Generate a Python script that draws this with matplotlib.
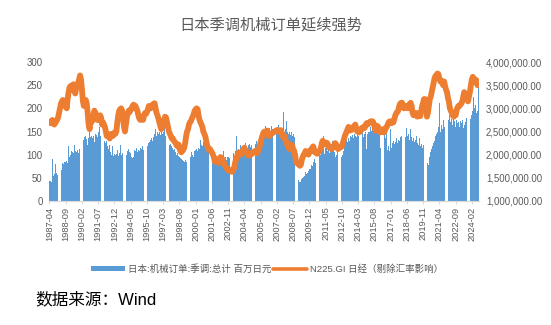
import matplotlib
matplotlib.use('Agg')
import matplotlib.pyplot as plt
import numpy as np
import pandas as pd
from matplotlib.ticker import FuncFormatter, MultipleLocator
from matplotlib.patches import Patch
from matplotlib.lines import Line2D

plt.rcParams['font.family'] = ['Liberation Sans', 'Noto Sans CJK SC', 'DejaVu Sans']

months = pd.period_range('1987-04', '2024-09', freq='M').strftime('%Y-%m').tolist()

# 日本:机械订单:季调:总计 (left axis units as shown)
orders = [
    43, 44, 42, 90, 55, 58, 80, 60, 57,
    62, 58, 65, 64, 66, 82, 80, 85, 84, 86, 82, 118,
    95, 100, 108, 105, 104, 120, 108, 106, 110, 104, 112, 115,
    130, 135, 140, 132, 138, 140, 133, 120, 135, 150, 138, 140,
    135, 140, 128, 145, 142, 138, 148, 160, 140, 130, 150, 138,
    135, 130, 125, 130, 118, 112, 120, 105, 100, 118, 98, 102,
    100, 102, 110, 98, 104, 120, 100, 103, 125, 98, 105, 102,
    100, 108, 112, 106, 104, 96, 92, 95, 110, 108, 114, 106,
    110, 108, 115, 112, 118, 110, 114, 122, 116, 120, 118, 125,
    128, 132, 135, 130, 138, 145, 155, 140, 148, 145, 150, 142,
    148, 145, 150, 158, 140, 138, 132, 135, 125, 120, 122, 118,
    115, 110, 112, 105, 100, 103, 98, 95, 92, 90, 88, 86,
    85, 88, 84, 90, 92, 87, 98, 95, 105, 100, 96, 108,
    110, 112, 108, 115, 112, 131, 120, 118, 128, 125, 115, 122,
    115, 118, 110, 108, 104, 100, 96, 95, 90, 92, 88, 86,
    84, 88, 80, 85, 90, 107, 92, 95, 88, 96, 94, 92,
    95, 94, 128, 100, 104, 96, 108, 140, 104, 112, 110, 120,
    112, 115, 118, 110, 125, 118, 114, 120, 122, 116, 120, 141,
    120, 125, 118, 122, 130, 115, 128, 124, 126, 135, 145, 150,
    150, 161, 148, 152, 155, 158, 150, 162, 155, 152, 160, 156,
    158, 152, 160, 163, 155, 158, 150, 155, 192, 150, 155, 173,
    148, 145, 150, 142, 148, 140, 145, 138, 130, 115, 100, 85,
    45, 41, 42, 48, 50, 52, 55, 62, 58, 60, 65, 68,
    70, 78, 75, 85, 90, 82, 95, 92, 100, 98, 105, 100,
    105, 110, 140, 102, 115, 120, 108, 112, 104, 118, 110, 130,
    115, 105, 95, 100, 110, 88, 98, 82, 104, 95, 100, 108,
    120, 125, 132, 128, 135, 130, 140, 138, 142, 135, 145, 140,
    138, 145, 140, 205, 135, 130, 142, 148, 138, 145, 150, 112,
    145, 150, 148, 160, 152, 155, 170, 150, 158, 162, 148, 155,
    150, 115, 145, 155, 120, 140, 148, 135, 150, 110, 118, 108,
    155, 115, 125, 130, 122, 128, 135, 125, 132, 130, 138, 140,
    140, 157, 135, 142, 138, 157, 140, 145, 132, 155, 138, 130,
    135, 128, 132, 140, 125, 120, 135, 118, 122, 115, 120, 112,
    118, 112, 108, 82, 78, 95, 105, 112, 118, 125, 130, 140,
    145, 150, 160, 211, 150, 165, 155, 175, 160, 170, 165, 172,
    180, 175, 185, 170, 178, 165, 190, 172, 160, 175, 168, 170,
    160, 172, 168, 175, 158, 165, 170, 180, 175, 185, 178, 224,
    178, 185, 195, 224, 200, 207, 190, 195, 250,
]

# N225.GI 日经（剔除汇率影响）, in units of 10,000 (right axis)
n225_wan = [
    270, 268, 272, 275, 270, 265, 268, 272, 275,
    280, 290, 300, 310, 315, 318, 312, 305, 310, 300, 320, 335,
    345, 348, 340, 350, 352, 338, 332, 345, 350, 355, 362, 371,
    362, 340, 315, 305, 312, 318, 310, 290, 265, 255, 275, 270,
    275, 285, 295, 290, 285, 275, 280, 275, 285, 280, 265, 270,
    265, 260, 250, 240, 245, 238, 235, 240, 245, 240, 242, 248,
    245, 250, 270, 285, 295, 298, 300, 295, 280, 260, 250, 265,
    280, 290, 295, 292, 298, 300, 305, 308, 300, 305, 300, 295,
    285, 278, 275, 280, 282, 275, 285, 290, 288, 292, 298, 305,
    305, 300, 302, 308, 310, 311, 300, 290, 285, 278, 270, 262,
    255, 260, 265, 275, 282, 280, 270, 260, 250, 245, 240, 235,
    235, 230, 228, 225, 220, 218, 222, 215, 208, 205, 212, 210,
    215, 225, 240, 250, 255, 265, 270, 272, 278, 282, 288, 295,
    298, 300, 298, 285, 275, 270, 265, 260, 250, 245, 240, 230,
    220, 215, 210, 212, 208, 205, 200, 195, 185, 188, 190, 185,
    182, 188, 195, 193, 190, 185, 180, 175, 172, 168, 166, 168,
    166, 164, 163, 165, 170, 180, 188, 195, 200, 205, 202, 200,
    202, 205, 212, 215, 205, 208, 202, 198, 200, 202, 200, 204,
    205, 206, 208, 204, 203, 206, 210, 218, 228, 235, 242, 248,
    250, 248, 250, 252, 242, 240, 242, 245, 246, 248, 249, 250,
    252, 253, 250, 250, 252, 253, 248, 240, 238, 240, 230, 228,
    220, 218, 212, 218, 222, 220, 212, 208, 200, 185, 182, 180,
    180, 176, 178, 188, 195, 200, 202, 208, 206, 204, 200, 205,
    210, 208, 215, 218, 210, 205, 204, 202, 205, 206, 210, 214,
    225, 230, 225, 222, 224, 226, 224, 218, 215, 216, 212, 214,
    216, 220, 225, 222, 215, 212, 214, 215, 216, 218, 225, 232,
    240, 245, 250, 255, 260, 252, 255, 253, 258, 260, 262, 265,
    258, 250, 252, 248, 250, 255, 258, 256, 260, 258, 265, 268,
    265, 268, 270, 272, 270, 272, 270, 262, 252, 258, 262, 260,
    250, 248, 250, 252, 255, 248, 252, 258, 260, 265, 270, 272,
    270, 268, 272, 270, 278, 285, 290, 292, 295, 305, 310, 312,
    312, 305, 300, 302, 305, 303, 300, 306, 310, 312, 305, 290,
    285, 288, 285, 290, 282, 285, 288, 283, 295, 305, 312, 320,
    320, 312, 282, 290, 305, 320, 325, 335, 345, 355, 365, 370,
    372, 375, 374, 365, 358, 360, 355, 350, 358, 348, 340, 335,
    322, 315, 300, 295, 290, 285, 282, 290, 285, 295, 302, 305,
    305, 308, 310, 315, 325, 335, 332, 330, 328, 315, 325, 335,
    350, 362, 368, 362, 358, 362, 355, 350, 358,
]

tick_labels = ['1987-04', '1988-09', '1990-02', '1991-07', '1992-12', '1994-05',
               '1995-10', '1997-03', '1998-08', '2000-01', '2001-06', '2002-11',
               '2004-04', '2005-09', '2007-02', '2008-07', '2009-12', '2011-05',
               '2012-10', '2014-03', '2015-08', '2017-01', '2018-06', '2019-11',
               '2021-04', '2022-09', '2024-02']

bar_label = '日本:机械订单:季调:总计 百万日元'
line_label = 'N225.GI 日经（剔除汇率影响）'
title = '日本季调机械订单延续强势'
source = '数据来源：Wind'

blue = '#5B9BD5'
orange = '#ED7D31'
gray = '#595959'

fig = plt.figure(figsize=(5.51, 3.25), dpi=100)
ax = fig.add_axes([49/551, 1-201/325, 430/551, 139/325])
x = np.arange(len(months))
ax.bar(x, orders, width=0.85, color=blue, linewidth=0)
ax.set_ylim(0, 300)
ax.set_xlim(-0.5, len(months) - 0.5)
ax.yaxis.set_major_locator(MultipleLocator(50))
for s in ['top', 'right', 'left']:
    ax.spines[s].set_visible(False)
ax.spines['bottom'].set_color('#d9d9d9')
ax.spines['bottom'].set_linewidth(0.8)
tick_pos = [months.index(t) for t in tick_labels]
ax.set_xticks(tick_pos)
ax.set_xticklabels(tick_labels, rotation=90)
ax.tick_params(axis='x', length=2.5, width=0.8, color='#d9d9d9', labelsize=6.7,
               labelcolor=gray, pad=1.5)
ax.tick_params(axis='y', length=0, labelsize=6.9, labelcolor=gray, pad=4.5)

ax2 = ax.twinx()
ax2.plot(x, np.array(n225_wan) * 1e4, color=orange, lw=4.2,
         solid_joinstyle='round', solid_capstyle='round')
ax2.set_ylim(1e6, 4e6)
ax2.yaxis.set_major_locator(MultipleLocator(5e5))
ax2.yaxis.set_major_formatter(FuncFormatter(lambda v, p: f'{v:,.2f}'))
for s in ax2.spines.values():
    s.set_visible(False)
ax2.tick_params(axis='y', length=0, labelsize=6.9, labelcolor=gray, pad=5)

fig.text(0.492, 0.922, title, ha='center', va='center', fontsize=11, color=gray)

handles = [Patch(facecolor=blue, edgecolor='none'),
           Line2D([], [], color=orange, lw=2.6, solid_capstyle='round')]
fig.legend(handles, [bar_label, line_label], loc='center', bbox_to_anchor=(0.485, 0.172),
           ncol=2, frameon=False, fontsize=6.8, labelcolor=gray, handlelength=3.6,
           handleheight=0.55, columnspacing=0.2, handletextpad=0.3, borderpad=0)

fig.text(0.065, 0.078, source, ha='left', va='center', fontsize=12, color='black')

fig.savefig('out.png', dpi=100)
